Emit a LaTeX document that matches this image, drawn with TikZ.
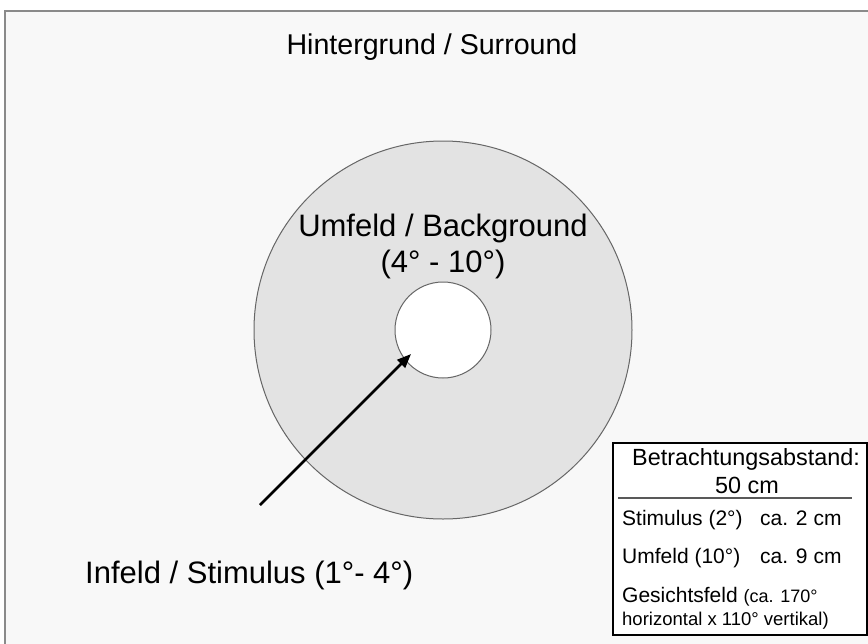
\documentclass[tikz,border=0pt]{standalone}
\usepackage{fontspec}
\setmainfont{Liberation Sans}
\usetikzlibrary{arrows.meta}
\definecolor{framebg}{HTML}{F8F8F8}
\definecolor{framelc}{HTML}{8A8A8A}
\definecolor{umfeld}{HTML}{E3E3E3}
\definecolor{circlc}{HTML}{666666}
\begin{document}
\begin{tikzpicture}[x=1pt,y=-1pt,
  lbl/.style={inner sep=0pt, font=\fontsize{#1}{#1}\selectfont},
  boxtxt/.style={inner sep=0pt, anchor=base west, font=\fontsize{#1}{#1}\selectfont},
  arr/.style={-{Triangle[length=14pt,width=11pt]}, line width=2.5pt, black}]
\useasboundingbox (0,0) rectangle (868,643);
\fill[white] (0,0) rectangle (868,643);
% frame
\draw[framelc, line width=2pt, fill=framebg] (5,11) rectangle (890,660);
% circles
\node[circle, draw=circlc, line width=1pt, fill=umfeld, minimum size=378pt, inner sep=0pt] (outer) at (443,330) {};
\node[circle, draw=circlc, line width=1pt, fill=white, minimum size=96pt, inner sep=0pt] (inner) at (443,330) {};
% texts
\node[lbl=28.6] (title) at (432,47) {Hintergrund / Surround};
\node[lbl=31] (umf) at (443,228) {Umfeld / Background};
\node[lbl=31] (umfdeg) at (443,264) {(4° - 10°)};
\node[lbl=31, anchor=west] (infeld) at (85,575) {Infeld / Stimulus (1°- 4°)};
% arrow
\coordinate (tail) at (260,505);
\coordinate (tip) at (411,354);
\draw[arr] (tail) -- (tip);
% info box
\node[draw=black, line width=2pt, fill=white, minimum width=254pt, minimum height=192pt, inner sep=0pt, anchor=north west] (box) at (612,442) {};
\node[boxtxt=23.4, anchor=base] (bt) at (746,465) {Betrachtungsabstand:};
\node[boxtxt=23.4, anchor=base] (dist) at (747,493) {50 cm};
\coordinate (sepL) at (618,498);
\coordinate (sepR) at (852,498);
\draw[line width=1.3pt, black!65] (sepL) -- (sepR);
\node[boxtxt=21] (s1) at (622,525) {Stimulus (2°)};
\node[boxtxt=21] (s2) at (760,525) {ca. 2 cm};
\node[boxtxt=21] (u1) at (622,563) {Umfeld (10°)};
\node[boxtxt=21] (u2) at (760,563) {ca. 9 cm};
\node[boxtxt=21] (g1) at (622,602) {Gesichtsfeld \fontsize{18}{18}\selectfont(ca. 170°};
\node[boxtxt=18.5] (g2) at (622,625) {horizontal x 110° vertikal)};
\end{tikzpicture}
\end{document}
